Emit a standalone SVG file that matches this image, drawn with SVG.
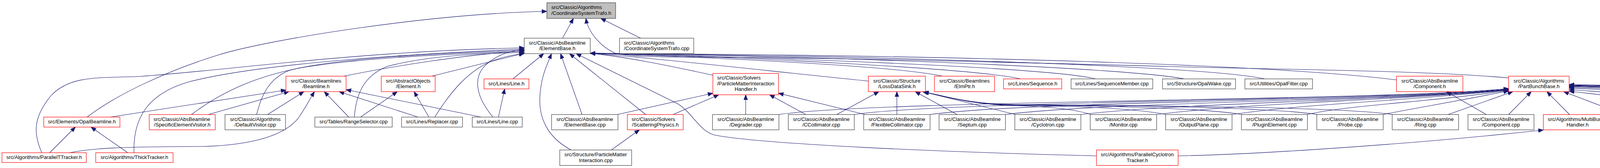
<svg xmlns="http://www.w3.org/2000/svg" width="6228" height="429" viewBox="0 0 6228 429">
<defs>
<marker id="ah" markerUnits="userSpaceOnUse" markerWidth="14" markerHeight="11" refX="13" refY="5.5" orient="auto" viewBox="0 0 14 11"><path d="M0,0.5 L13,5.5 L0,10.5 z" fill="#191970" stroke="#191970" stroke-width="1"/></marker>
</defs>
<style>
.node rect{fill:#ffffff;stroke:#404040;stroke-width:1.2}
.node.red rect{stroke:#ff0000}
.node.main rect{fill:#bfbfbf;stroke:#404040}
text{font-family:"Liberation Sans",Arial,Helvetica,sans-serif;font-size:13.2px;fill:#000000}
text.c{text-anchor:middle}
#edges path{fill:none;stroke:#191970;stroke-width:1.1;marker-end:url(#ah)}
</style>
<rect x="0" y="0" width="6228" height="429" fill="#ffffff"/>
<g id="edges">
<path d="M223,299 C300,240 430,180 560,140 C690,100 1100,35 1400,29"/>
<path d="M1440,97.5 L1468,47"/>
<path d="M1640,97.5 L1538,47"/>
<path d="M3862,199 C3650,180 3300,178 3000,170 C2700,162 2100,146 1800,146 C1680,146 1600,144 1575,136 C1535,118 1505,80 1500,47"/>
<path d="M107,390 C85,340 85,300 130,245 C180,190 260,200 360,195 C600,178 900,132 1342,122"/>
<path d="M343,390 C340,300 380,240 480,210 C650,165 1000,140 1342,125"/>
<path d="M490,292.5 C560,240 640,200 760,175 C900,150 1150,137 1342,131"/>
<path d="M657,292.5 C670,240 690,200 740,180 C850,150 1100,136 1342,128"/>
<path d="M907,299 C912,240 930,195 990,170 C1100,140 1250,136 1342,134"/>
<path d="M880,194.5 C1000,170 1200,138 1342,130"/>
<path d="M1105,194.5 L1342,136"/>
<path d="M1113,299 C1150,240 1200,175 1270,152 C1300,142 1320,139 1342,137"/>
<path d="M1262,299 C1225,255 1210,210 1235,175 C1260,145 1300,130 1342,126"/>
<path d="M1313,201.5 L1392,137"/>
<path d="M1462,383 C1400,350 1380,300 1382,250 C1384,200 1398,170 1412,137"/>
<path d="M1490,292.5 L1435,137"/>
<path d="M1653,292.5 L1458,137"/>
<path d="M2807,398 C2400,388 1950,368 1830,345 C1790,335 1775,290 1735,265 L1475,137"/>
<path d="M1825,192 C1700,165 1600,145 1511,136"/>
<path d="M2223,207 C2000,185 1700,150 1511,136"/>
<path d="M2413,194.5 C2300,170 1900,150 1511,136"/>
<path d="M2613,201.5 C2500,175 1900,145 1511,136"/>
<path d="M2805,201.5 C2700,175 2100,150 1511,136"/>
<path d="M3032,201.5 C2900,175 2200,145 1511,136"/>
<path d="M3238,201.5 C3100,172 2400,145 1511,136"/>
<path d="M3575,204 C3300,170 2600,142 1511,136"/>
<path d="M282,299 L732,230"/>
<path d="M533,292.5 L740,234"/>
<path d="M685,292.5 L778,234"/>
<path d="M177,390 C240,378 300,375 520,374 C650,370 730,345 765,300 C785,270 795,250 805,234"/>
<path d="M893,299 L830,234"/>
<path d="M1232,299 L886,229"/>
<path d="M1070,299 L868,234"/>
<path d="M1098,299 L1060,234"/>
<path d="M923,299 L1017,234"/>
<path d="M1276,299 L1292,227"/>
<path d="M127,390 L193,324.5"/>
<path d="M327,390 L233,324.5"/>
<path d="M1580,292.5 L1825,238"/>
<path d="M1723,292.5 L1840,242"/>
<path d="M1909,292.5 L1909,242"/>
<path d="M2063,292.5 L1970,242"/>
<path d="M2215,292.5 L1993,238"/>
<path d="M1565,383 L1637,331.5"/>
<path d="M2142,292.5 L2250,234"/>
<path d="M2296,292.5 L2296,234"/>
<path d="M2450,292.5 L2343,234"/>
<path d="M2600,292.5 L2362,234"/>
<path d="M2793,292.5 C2750,278 2680,272 2600,270 C2480,267 2420,245 2365,235"/>
<path d="M2986,292.5 C2900,276 2750,271 2600,269 C2480,267 2420,245 2365,235"/>
<path d="M3180,292.5 C3080,276 2850,271 2600,268 C2480,266 2420,245 2365,235"/>
<path d="M3373,292.5 C3260,275 2950,270 2600,268 C2480,266 2420,245 2365,235"/>
<path d="M3566,292.5 C3450,275 3050,270 2600,267 C2480,266 2420,245 2365,235"/>
<path d="M1993,292.5 C2250,255 3550,258 3862,226"/>
<path d="M2186,292.5 C2440,256 3550,258 3862,227"/>
<path d="M2380,292.5 C2630,258 3550,258 3862,228"/>
<path d="M2573,292.5 C2830,260 3550,258 3862,229"/>
<path d="M2766,292.5 C3030,262 3550,258 3862,229"/>
<path d="M2960,292.5 C3200,262 3550,258 3862,230"/>
<path d="M3153,292.5 C3350,264 3600,258 3862,230"/>
<path d="M3346,292.5 C3450,268 3650,262 3862,231"/>
<path d="M3540,292.5 C3600,280 3750,255 3862,232"/>
<path d="M3707,292.5 L3873,234"/>
<path d="M3862,292.5 L3920,234"/>
<path d="M3805,292.5 L3703,234"/>
<path d="M4018,292.5 L3960,234"/>
<path d="M4157,292.5 L4003,234"/>
<path d="M4315,292.5 C4279,264 4160,248 4017,233"/>
<path d="M4509,292.5 C4450,264 4253,244 4017,229"/>
<path d="M4702,292.5 C4620,264 4346,240 4017,225"/>
<path d="M4895,292.5 C4790,264 4438,238 4017,223"/>
<path d="M5089,292.5 C4960,264 4532,236 4017,221"/>
<path d="M5282,292.5 C5130,264 4624,235 4017,220"/>
<path d="M5475,292.5 C5300,264 4717,234 4017,219"/>
<path d="M5669,292.5 C5471,264 4810,233 4017,218"/>
<path d="M5862,292.5 C5641,264 4903,232 4017,217"/>
<path d="M6056,292.5 C5811,264 4996,231 4017,216"/>
<path d="M3016,398 C3200,395 3600,370 3951,332"/>
</g>
<g id="n_cst_h" class="node main"><rect x="1400" y="7" width="176" height="40"/><text x="1411.5" y="23">src/Classic/Algorithms</text><text class="c" x="1488" y="37.5">/CoordinateSystemTrafo.h</text></g>
<g id="n_elementbase_h" class="node"><rect x="1342" y="97.5" width="169" height="39.5"/><text class="c" x="1426.5" y="113.5">src/Classic/AbsBeamline</text><text class="c" x="1426.5" y="128">/ElementBase.h</text></g>
<g id="n_cst_cpp" class="node"><rect x="1586" y="97.5" width="190" height="39.5"/><text x="1597" y="113.5">src/Classic/Algorithms</text><text class="c" x="1681" y="128">/CoordinateSystemTrafo.cpp</text></g>
<g id="n_beamline_h" class="node red"><rect x="732" y="194.5" width="154" height="39.5"/><text class="c" x="809" y="210.5">src/Classic/Beamlines</text><text class="c" x="809" y="225">/Beamline.h</text></g>
<g id="n_element_h" class="node red"><rect x="976" y="194.5" width="138" height="39.5"/><text class="c" x="1045" y="210.5">src/AbstractObjects</text><text class="c" x="1045" y="225">/Element.h</text></g>
<g id="n_line_h" class="node red"><rect x="1239" y="201.5" width="115" height="25.5"/><text class="c" x="1296.5" y="217.5">src/Lines/Line.h</text></g>
<g id="n_pmih_h" class="node red"><rect x="1825" y="187.5" width="168" height="54.5"/><text x="1836" y="203">src/Classic/Solvers</text><text class="c" x="1909" y="217.5">/ParticleMatterInteraction</text><text class="c" x="1909" y="232">Handler.h</text></g>
<g id="n_lossdatasink_h" class="node red"><rect x="2223" y="194.5" width="146" height="39.5"/><text class="c" x="2296" y="210.5">src/Classic/Structure</text><text class="c" x="2296" y="225">/LossDataSink.h</text></g>
<g id="n_elmptr_h" class="node red"><rect x="2392" y="194.5" width="154" height="39.5"/><text class="c" x="2469" y="210.5">src/Classic/Beamlines</text><text class="c" x="2469" y="225">/ElmPtr.h</text></g>
<g id="n_sequence_h" class="node red"><rect x="2569" y="201.5" width="149" height="25.5"/><text class="c" x="2643.5" y="217.5">src/Lines/Sequence.h</text></g>
<g id="n_sequencemember_cpp" class="node"><rect x="2742" y="201.5" width="209" height="25.5"/><text class="c" x="2846.5" y="217.5">src/Lines/SequenceMember.cpp</text></g>
<g id="n_opalwake_cpp" class="node"><rect x="2976" y="201.5" width="187" height="25.5"/><text class="c" x="3069.5" y="217.5">src/Structure/OpalWake.cpp</text></g>
<g id="n_opalfilter_cpp" class="node"><rect x="3187" y="201.5" width="173" height="25.5"/><text class="c" x="3273.5" y="217.5">src/Utilities/OpalFilter.cpp</text></g>
<g id="n_component_h" class="node red"><rect x="3575" y="194.5" width="170" height="39.5"/><text class="c" x="3660" y="210.5">src/Classic/AbsBeamline</text><text class="c" x="3660" y="225">/Component.h</text></g>
<g id="n_partbunchbase_h" class="node red"><rect x="3862" y="194.5" width="155" height="39.5"/><text class="c" x="3939.5" y="210.5">src/Classic/Algorithms</text><text class="c" x="3939.5" y="225">/PartBunchBase.h</text></g>
<g id="n_opalbeamline_h" class="node red"><rect x="112" y="299" width="195" height="25.5"/><text class="c" x="209.5" y="315">src/Elements/OpalBeamline.h</text></g>
<g id="n_specificelementvisitor_h" class="node red"><rect x="382" y="292.5" width="169" height="39"/><text x="393" y="308.5">src/Classic/AbsBeamline</text><text class="c" x="466.5" y="323">/SpecificElementVisitor.h</text></g>
<g id="n_defaultvisitor_cpp" class="node"><rect x="576" y="292.5" width="155" height="39"/><text class="c" x="653.5" y="308.5">src/Classic/Algorithms</text><text class="c" x="653.5" y="323">/DefaultVisitor.cpp</text></g>
<g id="n_rangeselector_cpp" class="node"><rect x="806" y="299" width="198" height="25.5"/><text class="c" x="905" y="315">src/Tables/RangeSelector.cpp</text></g>
<g id="n_replacer_cpp" class="node"><rect x="1028" y="299" width="156" height="25.5"/><text class="c" x="1106" y="315">src/Lines/Replacer.cpp</text></g>
<g id="n_line_cpp" class="node"><rect x="1209" y="299" width="128" height="25.5"/><text class="c" x="1273" y="315">src/Lines/Line.cpp</text></g>
<g id="n_elementbase_cpp" class="node"><rect x="1412" y="292.5" width="170" height="39"/><text class="c" x="1497" y="308.5">src/Classic/AbsBeamline</text><text class="c" x="1497" y="323">/ElementBase.cpp</text></g>
<g id="n_scatteringphysics_h" class="node red"><rect x="1606" y="292.5" width="143" height="39"/><text x="1617" y="308.5">src/Classic/Solvers</text><text class="c" x="1677.5" y="323">/ScatteringPhysics.h</text></g>
<g id="n_degrader_cpp" class="node"><rect x="1824" y="292.5" width="170" height="39"/><text class="c" x="1909" y="308.5">src/Classic/AbsBeamline</text><text class="c" x="1909" y="323">/Degrader.cpp</text></g>
<g id="n_ccollimator_cpp" class="node"><rect x="2018" y="292.5" width="169" height="39"/><text class="c" x="2102.5" y="308.5">src/Classic/AbsBeamline</text><text class="c" x="2102.5" y="323">/CCollimator.cpp</text></g>
<g id="n_flexiblecollimator_cpp" class="node"><rect x="2211" y="292.5" width="170" height="39"/><text class="c" x="2296" y="308.5">src/Classic/AbsBeamline</text><text class="c" x="2296" y="323">/FlexibleCollimator.cpp</text></g>
<g id="n_septum_cpp" class="node"><rect x="2404" y="292.5" width="170" height="39"/><text class="c" x="2489" y="308.5">src/Classic/AbsBeamline</text><text class="c" x="2489" y="323">/Septum.cpp</text></g>
<g id="n_cyclotron_cpp" class="node"><rect x="2598" y="292.5" width="169" height="39"/><text class="c" x="2682.5" y="308.5">src/Classic/AbsBeamline</text><text class="c" x="2682.5" y="323">/Cyclotron.cpp</text></g>
<g id="n_monitor_cpp" class="node"><rect x="2791" y="292.5" width="170" height="39"/><text class="c" x="2876" y="308.5">src/Classic/AbsBeamline</text><text class="c" x="2876" y="323">/Monitor.cpp</text></g>
<g id="n_outputplane_cpp" class="node"><rect x="2984" y="292.5" width="170" height="39"/><text class="c" x="3069" y="308.5">src/Classic/AbsBeamline</text><text class="c" x="3069" y="323">/OutputPlane.cpp</text></g>
<g id="n_pluginelement_cpp" class="node"><rect x="3178" y="292.5" width="169" height="39"/><text class="c" x="3262.5" y="308.5">src/Classic/AbsBeamline</text><text class="c" x="3262.5" y="323">/PluginElement.cpp</text></g>
<g id="n_probe_cpp" class="node"><rect x="3371" y="292.5" width="170" height="39"/><text class="c" x="3456" y="308.5">src/Classic/AbsBeamline</text><text class="c" x="3456" y="323">/Probe.cpp</text></g>
<g id="n_ring_cpp" class="node"><rect x="3564" y="292.5" width="170" height="39"/><text class="c" x="3649" y="308.5">src/Classic/AbsBeamline</text><text class="c" x="3649" y="323">/Ring.cpp</text></g>
<g id="n_component_cpp" class="node"><rect x="3758" y="292.5" width="169" height="39"/><text class="c" x="3842.5" y="308.5">src/Classic/AbsBeamline</text><text class="c" x="3842.5" y="323">/Component.cpp</text></g>
<g id="n_multibunchhandler_h" class="node red"><rect x="3951" y="292.5" width="175" height="39"/><text class="c" x="4038.5" y="308.5">src/Algorithms/MultiBunch</text><text class="c" x="4038.5" y="323">Handler.h</text></g>
<g id="n_opaldata_cpp" class="node"><rect x="4150" y="292.5" width="139" height="39"/><text class="c" x="4219.5" y="308.5">src/AbstractObjects</text><text class="c" x="4219.5" y="323">/OpalData.cpp</text></g>
<g id="n_bend2d_cpp" class="node"><rect x="4313" y="292.5" width="170" height="39"/><text class="c" x="4398" y="308.5">src/Classic/AbsBeamline</text><text class="c" x="4398" y="323">/Bend2D.cpp</text></g>
<g id="n_bendbase_cpp" class="node"><rect x="4507" y="292.5" width="170" height="39"/><text class="c" x="4592" y="308.5">src/Classic/AbsBeamline</text><text class="c" x="4592" y="323">/BendBase.cpp</text></g>
<g id="n_corrector_cpp" class="node"><rect x="4700" y="292.5" width="170" height="39"/><text class="c" x="4785" y="308.5">src/Classic/AbsBeamline</text><text class="c" x="4785" y="323">/Corrector.cpp</text></g>
<g id="n_drift_cpp" class="node"><rect x="4893" y="292.5" width="170" height="39"/><text class="c" x="4978" y="308.5">src/Classic/AbsBeamline</text><text class="c" x="4978" y="323">/Drift.cpp</text></g>
<g id="n_multipole_cpp" class="node"><rect x="5087" y="292.5" width="170" height="39"/><text class="c" x="5172" y="308.5">src/Classic/AbsBeamline</text><text class="c" x="5172" y="323">/Multipole.cpp</text></g>
<g id="n_rbend_cpp" class="node"><rect x="5280" y="292.5" width="170" height="39"/><text class="c" x="5365" y="308.5">src/Classic/AbsBeamline</text><text class="c" x="5365" y="323">/RBend.cpp</text></g>
<g id="n_rbend3d_cpp" class="node"><rect x="5473" y="292.5" width="170" height="39"/><text class="c" x="5558" y="308.5">src/Classic/AbsBeamline</text><text class="c" x="5558" y="323">/RBend3D.cpp</text></g>
<g id="n_rfcavity_cpp" class="node"><rect x="5667" y="292.5" width="170" height="39"/><text class="c" x="5752" y="308.5">src/Classic/AbsBeamline</text><text class="c" x="5752" y="323">/RFCavity.cpp</text></g>
<g id="n_sbend3d_cpp" class="node"><rect x="5860" y="292.5" width="170" height="39"/><text class="c" x="5945" y="308.5">src/Classic/AbsBeamline</text><text class="c" x="5945" y="323">/SBend3D.cpp</text></g>
<g id="n_solenoid_cpp" class="node"><rect x="6054" y="292.5" width="169" height="39"/><text class="c" x="6138.5" y="308.5">src/Classic/AbsBeamline</text><text class="c" x="6138.5" y="323">/Solenoid.cpp</text></g>
<g id="n_paralleltracker_h" class="node red"><rect x="5" y="390" width="216" height="25"/><text class="c" x="113" y="406">src/Algorithms/ParallelTTracker.h</text></g>
<g id="n_thicktracker_h" class="node red"><rect x="245" y="390" width="198" height="25"/><text class="c" x="344" y="406">src/Algorithms/ThickTracker.h</text></g>
<g id="n_particlematterinteraction_cpp" class="node"><rect x="1433" y="383" width="184" height="39.5"/><text class="c" x="1525" y="399">src/Structure/ParticleMatter</text><text class="c" x="1525" y="413.5">Interaction.cpp</text></g>
<g id="n_parallelcyclotrontracker_h" class="node red"><rect x="2807" y="383" width="209" height="39.5"/><text class="c" x="2911.5" y="399">src/Algorithms/ParallelCyclotron</text><text class="c" x="2911.5" y="413.5">Tracker.h</text></g>
</svg>
